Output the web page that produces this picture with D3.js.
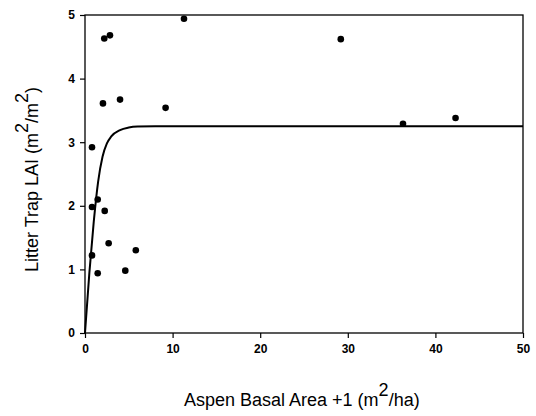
<!DOCTYPE html>
<html>
<head>
<meta charset="utf-8">
<script src="https://cdn.jsdelivr.net/npm/d3@7"></script>
<style>
  body { margin: 0; background: #fff; }
  svg text { font-family: "Liberation Sans", Arial, sans-serif; fill: #000; }
</style>
</head>
<body>
<svg id="chart" width="536" height="416"></svg>
<script>
// observed points: aspen basal area +1 vs litter trap LAI
var basalArea = [11.3, 2.2, 2.85, 2.05, 4.0, 9.2, 0.8, 0.8, 1.45, 2.25, 2.7, 0.8, 1.45, 4.6, 5.8, 29.2, 36.3, 42.3];
var lai       = [4.94, 4.63, 4.68, 3.61, 3.67, 3.54, 2.92, 1.98, 2.10, 1.92, 1.41, 1.22, 0.94, 0.98, 1.30, 4.62, 3.29, 3.38];

// fitted curve
var curveX = [0, 0.5, 1, 1.5, 2, 2.5, 3, 4, 5, 6, 8, 50];
var curveY = [0, 0.95, 1.75, 2.38, 2.77, 2.98, 3.09, 3.19, 3.23, 3.245, 3.25, 3.25];

var xTicks = [0, 10, 20, 30, 40, 50];
var yTicks = [0, 1, 2, 3, 4, 5];

var plotLeft = 85, plotRight = 523, plotTop = 15, plotBottom = 333;

var chart = d3.select("#chart");

var x = d3.scaleLinear().domain([0, 50]).range([plotLeft, plotRight]);
var y = d3.scaleLinear().domain([0, 5]).range([plotBottom, plotTop]);

// frame
chart.append("rect")
  .attr("x", plotLeft).attr("y", plotTop)
  .attr("width", plotRight - plotLeft).attr("height", plotBottom - plotTop)
  .attr("fill", "none").attr("stroke", "#000").attr("stroke-width", 1.3);

// y axis
var yAxis = d3.axisLeft(y).tickValues(yTicks).tickSize(5).tickPadding(5).tickFormat(d3.format("d"));
var gy = chart.append("g").attr("transform", "translate(" + plotLeft + ",0)").call(yAxis);

// x axis
var xAxis = d3.axisBottom(x).tickValues(xTicks).tickSize(5).tickPadding(6).tickFormat(d3.format("d"));
var gx = chart.append("g").attr("transform", "translate(0," + plotBottom + ")").call(xAxis);

[gx, gy].forEach(function(g){
  g.select(".domain").remove();
  g.selectAll(".tick line").attr("stroke", "#000").attr("stroke-width", 1.2);
  g.selectAll(".tick text")
    .style("font-family", "'Liberation Sans', Arial, sans-serif")
    .style("font-size", "12px")
    .style("font-weight", "bold")
    .attr("fill", "#000");
});

// fitted line
var line = d3.line()
  .x(function(d){ return x(d[0]); })
  .y(function(d){ return y(d[1]); })
  .curve(d3.curveMonotoneX);

chart.append("path")
  .datum(curveX.map(function(v, i){ return [v, curveY[i]]; }))
  .attr("d", line)
  .attr("fill", "none")
  .attr("stroke", "#000")
  .attr("stroke-width", 2);

// points
chart.selectAll("circle.pt")
  .data(basalArea.map(function(v, i){ return {x: v, y: lai[i]}; }))
  .enter().append("circle")
  .attr("class", "pt")
  .attr("cx", function(d){ return x(d.x); })
  .attr("cy", function(d){ return y(d.y); })
  .attr("r", 3.3)
  .attr("fill", "#000");

// axis titles
var xt = chart.append("text")
  .attr("x", 184).attr("y", 406)
  .style("font-size", "18px");
xt.append("tspan").text("Aspen Basal Area +1 (m");
xt.append("tspan").attr("dy", -10).text("2");
xt.append("tspan").attr("dy", 10).text("/ha)");

var yt = chart.append("text")
  .attr("transform", "translate(38,272) rotate(-90)")
  .style("font-size", "18px");
yt.append("tspan").text("Litter Trap LAI (m");
yt.append("tspan").attr("dy", -10).text("2");
yt.append("tspan").attr("dy", 10).text("/m");
yt.append("tspan").attr("dy", -10).text("2");
yt.append("tspan").attr("dy", 10).text(")");
</script>
</body>
</html>
